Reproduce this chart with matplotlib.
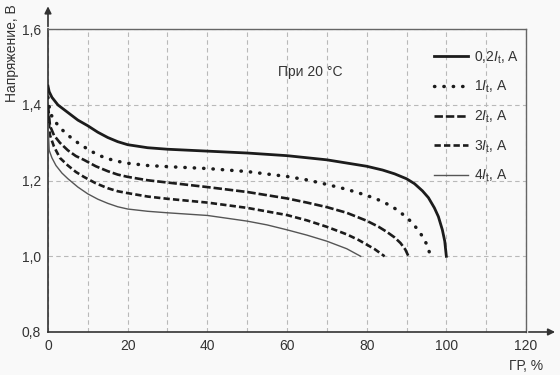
import matplotlib

matplotlib.use("Agg")
import matplotlib.pyplot as plt  # noqa: E402
from matplotlib.ticker import MultipleLocator  # noqa: E402

INK, GRID, BG = "#1c1c1c", "#b9b9b9", "#f9f9f9"

# discharge curves: capacity % -> voltage, V
x_02 = [0, 0.3, 1, 2.5, 5, 7.5, 10, 12.5, 15, 17.5, 20, 25, 30, 40, 50, 60, 70, 80, 84, 87,
        90, 92, 94, 95.5, 97, 98, 99, 99.6, 100]
y_02 = [1.45, 1.435, 1.42, 1.40, 1.38, 1.36, 1.345, 1.328, 1.314, 1.303, 1.295, 1.287, 1.283,
        1.278, 1.273, 1.266, 1.255, 1.238, 1.228, 1.218, 1.205, 1.192, 1.173, 1.155, 1.128,
        1.105, 1.07, 1.04, 1.0]
x_1 = [0, 0.5, 1.5, 3, 5, 7.5, 10, 12.5, 15, 17.5, 20, 25, 30, 40, 50, 60, 65, 70, 75, 80, 83,
       86, 88, 90, 91.5, 93, 94.5, 95.5, 96]
y_1 = [1.42, 1.38, 1.36, 1.34, 1.32, 1.30, 1.283, 1.268, 1.258, 1.251, 1.246, 1.24, 1.237,
       1.232, 1.224, 1.211, 1.202, 1.19, 1.177, 1.161, 1.149, 1.134, 1.12, 1.103, 1.088, 1.068,
       1.045, 1.02, 1.0]
x_2 = [0, 0.5, 1.5, 3, 5, 7, 9, 12, 15, 17.5, 20, 25, 30, 40, 50, 60, 65, 70, 75, 80, 83, 85,
       87, 88.5, 89.7, 90.5]
y_2 = [1.40, 1.345, 1.32, 1.30, 1.28, 1.265, 1.255, 1.238, 1.225, 1.216, 1.21, 1.201, 1.195,
       1.183, 1.17, 1.153, 1.142, 1.13, 1.115, 1.094, 1.078, 1.065, 1.05, 1.035, 1.018, 1.0]
x_3 = [0, 0.5, 1.5, 3, 5, 7, 9, 12, 15, 17.5, 20, 25, 30, 40, 50, 60, 65, 70, 75, 78, 80, 82,
       84.5]
y_3 = [1.38, 1.32, 1.29, 1.26, 1.24, 1.223, 1.21, 1.193, 1.18, 1.172, 1.167, 1.158, 1.152,
       1.142, 1.128, 1.109, 1.095, 1.078, 1.058, 1.043, 1.031, 1.019, 1.0]
x_4 = [0, 0.3, 1, 2, 3.5, 5, 7.5, 10, 12.5, 15, 17.5, 20, 25, 30, 40, 50, 55, 60, 65, 70, 75,
       78.5]
y_4 = [1.35, 1.28, 1.26, 1.24, 1.22, 1.205, 1.183, 1.165, 1.151, 1.14, 1.131, 1.125, 1.119,
       1.115, 1.108, 1.093, 1.083, 1.07, 1.056, 1.04, 1.02, 1.0]

labels = [r"0,2$I_\mathrm{t}$, A", r"1$I_\mathrm{t}$, A", r"2$I_\mathrm{t}$, A",
          r"3$I_\mathrm{t}$, A", r"4$I_\mathrm{t}$, A"]
x_ticks = [0, 20, 40, 60, 80, 100, 120]
y_ticks = [0.8, 1.0, 1.2, 1.4, 1.6]

plt.rcParams.update(
    {
        "font.family": "Liberation Sans",
        "font.size": 10,
        "text.color": "#333333",
        "mathtext.fontset": "custom",
        "mathtext.rm": "Liberation Sans",
        "mathtext.it": "Liberation Sans:italic",
        "figure.facecolor": BG,
        "axes.facecolor": BG,
    }
)

fig = plt.figure(figsize=(5.6, 3.75), dpi=100)
ax = fig.add_axes([0.0857, 0.1147, 0.8536, 0.8072])

styles = [
    dict(color=INK, lw=2.0, ls="-"),
    dict(color=INK, lw=2.5, ls=(0, (0.1, 2.6)), dash_capstyle="round"),
    dict(color=INK, lw=1.9, ls=(0, (3.2, 1.1))),
    dict(color=INK, lw=1.9, ls=(0, (2.4, 1.2))),
    dict(color="#555555", lw=1.0, ls="-"),
]
series = [(x_02, y_02), (x_1, y_1), (x_2, y_2), (x_3, y_3), (x_4, y_4)]
for (xs, ys), st, lab in zip(series, styles, labels):
    ax.plot(xs, ys, label=lab, zorder=3, **st)

ax.set_xlim(0, 120)
ax.set_ylim(0.8, 1.6)
ax.set_xticks(x_ticks)
ax.set_xticklabels([str(v) for v in x_ticks])
ax.xaxis.set_minor_locator(MultipleLocator(10))
ax.set_yticks(y_ticks)
ax.set_yticklabels([f"{v:.1f}".replace(".", ",") for v in y_ticks])
ax.tick_params(which="both", length=0, colors="#333333", labelsize=10)
ax.tick_params(axis="x", pad=5)
ax.tick_params(axis="y", pad=5)
ax.grid(True, which="both", color=GRID, lw=0.8, ls=(0, (4, 3)))

for side in ["top", "right"]:
    ax.spines[side].set_color("#666666")
    ax.spines[side].set_linewidth(1.0)
for side in ["left", "bottom"]:
    ax.spines[side].set_color("#333333")
    ax.spines[side].set_linewidth(1.2)

# axis arrows beyond the frame
ax.annotate("", xy=(0, 1.668), xytext=(0, 1.6), annotation_clip=False,
            arrowprops=dict(arrowstyle="-|>", color="#333333", lw=1.2, mutation_scale=10))
ax.annotate("", xy=(128, 0.8), xytext=(120, 0.8), annotation_clip=False,
            arrowprops=dict(arrowstyle="-|>", color="#333333", lw=1.2, mutation_scale=10))

ax.text(65.8, 1.487, "При 20 °C", ha="center", va="center", fontsize=10)

ax.legend(loc="upper left", bbox_to_anchor=(0.782, 0.975), frameon=False, handlelength=2.45,
          handletextpad=0.4, labelspacing=0.95, fontsize=10)

fig.text(0.022, 0.99, "Напряжение, В", rotation=90, ha="center", va="top", fontsize=10,
         color="#333333")
fig.text(0.94, 0.025, "ГР, %", ha="center", va="center", fontsize=10, color="#333333")

fig.savefig("out.png", dpi=100, facecolor=BG)
